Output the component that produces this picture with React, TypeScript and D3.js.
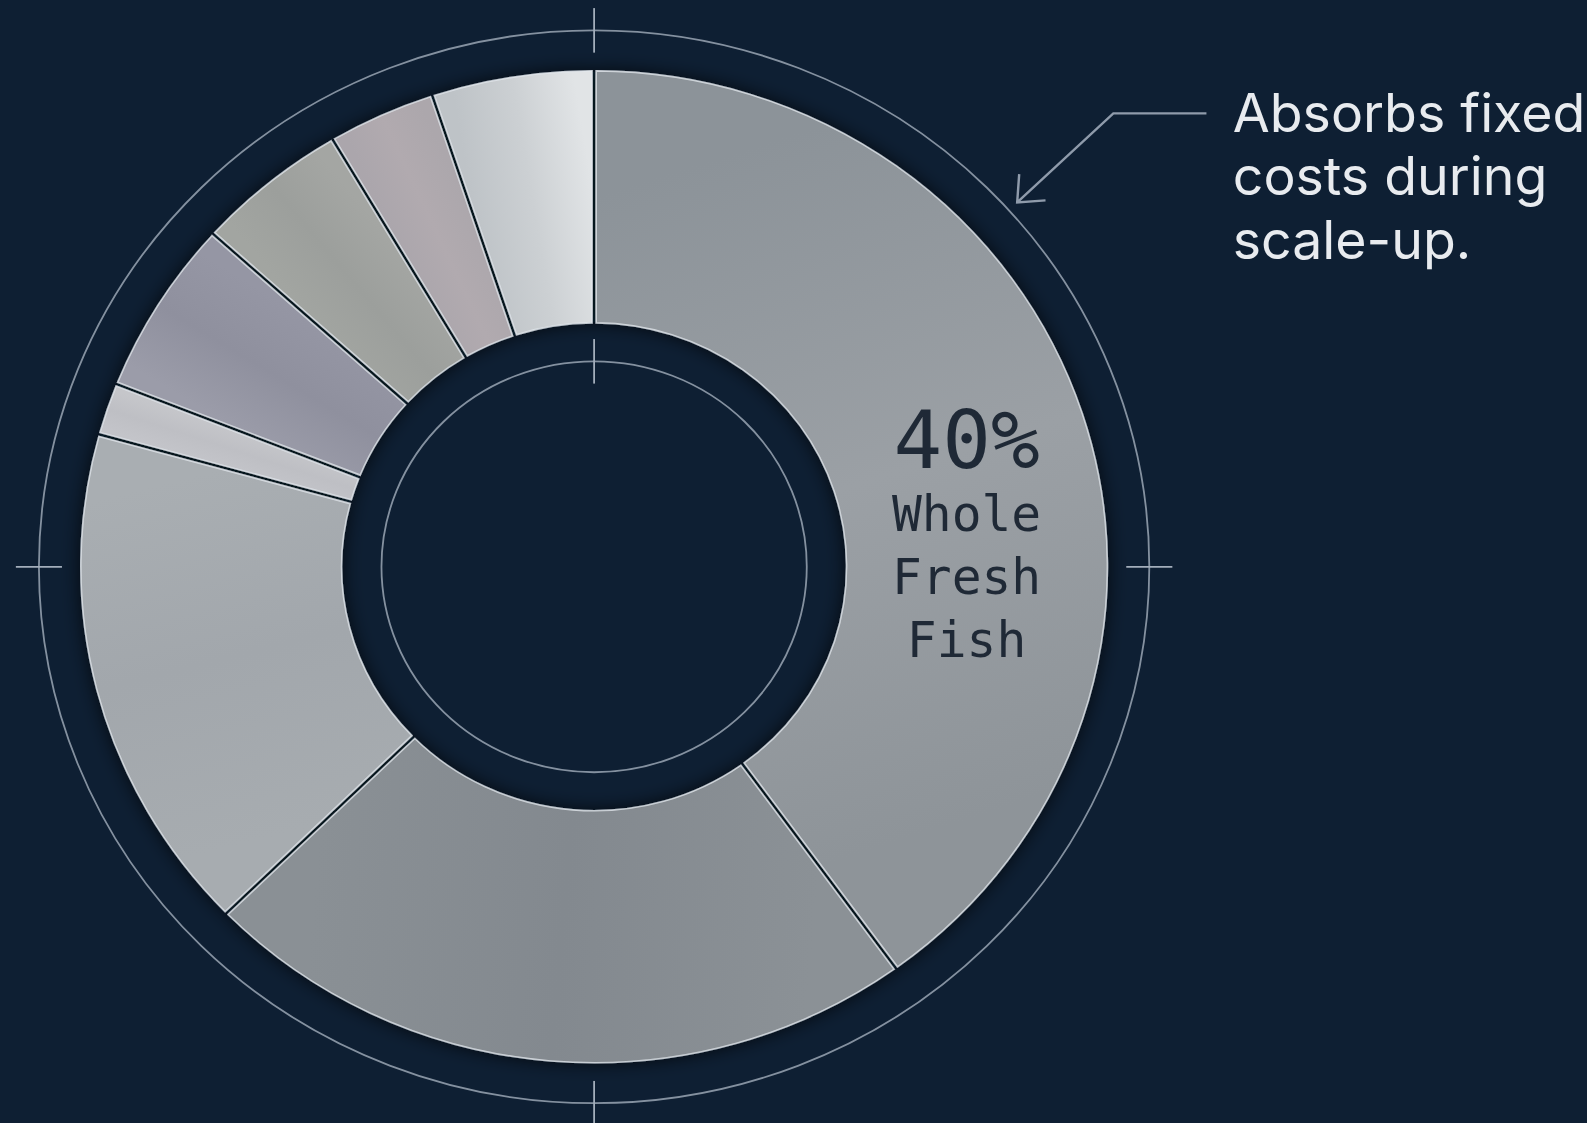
import React, { useRef, useEffect } from "react";
import * as d3 from "d3";

// share of each product line, clockwise from 12 o'clock
const shares = [40, 22.7, 16.6, 1.7, 5.7, 4.8, 3.4, 5.1];
const segmentColors = [
  ["#8c9399", "#9ba0a5", "#8e9499"],
  ["#8b9196", "#83898f", "#8a9095"],
  ["#a7acb0", "#a2a7ac", "#a9aeb2"],
  ["#c3c4c9", "#bebfc4", "#c5c6ca"],
  ["#9b9ca9", "#8f909e", "#9596a4"],
  ["#a2a5a1", "#9c9f9c", "#a4a6a3"],
  ["#aba6ac", "#b1aaaf", "#aca7ac"],
  ["#bec3c7", "#ccd0d3", "#e1e4e6"],
];
const labelLines = ["40%", "Whole", "Fresh", "Fish"];
const noteLines = ["Absorbs fixed", "costs during", "scale-up."];
const crosshairAngles = [0, 90, 180, 270];

const App = () => {
  const node: any = useRef();
  const width = 1587,
    height = 1123;

  useEffect(() => {
    const svg = d3.select(node.current);
    svg.selectAll("*").remove();

    const cx = 587,
      cy = 560,
      stretch = 1.035;
    const rOuter = 490,
      rInner = 241,
      rRing = 530,
      rHole = 203;

    svg.append("rect").attr("width", width).attr("height", height).attr("fill", "#0e1f33");

    const defs = svg.append("defs");
    const shadow = defs
      .append("filter")
      .attr("id", "shade")
      .attr("x", "-20%")
      .attr("y", "-20%")
      .attr("width", "140%")
      .attr("height", "140%");
    shadow
      .append("feDropShadow")
      .attr("dx", 0)
      .attr("dy", 0)
      .attr("stdDeviation", 9)
      .attr("flood-color", "#030b16")
      .attr("flood-opacity", 0.75);

    // layout was measured on a 1568px-wide view of the page
    const root = svg.append("g").attr("transform", `scale(${width / 1568})`);

    const g = root
      .append("g")
      .attr("transform", `translate(${cx},${cy}) scale(${stretch},1)`);

    // guide circles
    [rRing, rHole].forEach((r) => {
      g.append("circle")
        .attr("r", r)
        .attr("fill", "none")
        .attr("stroke", "#a3aebb")
        .attr("stroke-opacity", 0.8)
        .attr("stroke-width", 1.8)
        .attr("vector-effect", "non-scaling-stroke");
    });

    const pie = d3
      .pie<number>()
      .sort(null)
      .value((d) => d)
      .startAngle(0)
      .endAngle(2 * Math.PI);
    const arcs = pie(shares);

    const arc = d3
      .arc<d3.PieArcDatum<number>>()
      .innerRadius(rInner)
      .outerRadius(rOuter)
      .padAngle(4 / rOuter)
      .padRadius(rOuter);

    const mid = (rInner + rOuter) / 2;
    arcs.forEach((a, i) => {
      const grad = defs
        .append("linearGradient")
        .attr("id", "seg" + i)
        .attr("gradientUnits", "userSpaceOnUse")
        .attr("x1", mid * Math.sin(a.startAngle))
        .attr("y1", -mid * Math.cos(a.startAngle))
        .attr("x2", mid * Math.sin(a.endAngle))
        .attr("y2", -mid * Math.cos(a.endAngle));
      segmentColors[i].forEach((c, k) => {
        grad
          .append("stop")
          .attr("offset", k / (segmentColors[i].length - 1))
          .attr("stop-color", c);
      });
    });

    const ring = g.append("g").attr("filter", "url(#shade)");
    ring
      .selectAll("path")
      .data(arcs)
      .enter()
      .append("path")
      .attr("d", arc)
      .attr("fill", (_d, i) => `url(#seg${i})`)
      .attr("stroke", "#e2e7ec")
      .attr("stroke-opacity", 0.8)
      .attr("stroke-width", 1.6)
      .attr("vector-effect", "non-scaling-stroke");

    // crosshair ticks on the outer ring and top of the hole
    const tick = 22;
    crosshairAngles.forEach((deg) => {
      const t = (deg * Math.PI) / 180;
      const ux = Math.sin(t),
        uy = -Math.cos(t);
      g.append("line")
        .attr("x1", ux * (rRing - tick))
        .attr("y1", uy * (rRing - tick))
        .attr("x2", ux * (rRing + tick))
        .attr("y2", uy * (rRing + tick))
        .attr("stroke", "#a3aebb")
        .attr("stroke-width", 1.8)
        .attr("vector-effect", "non-scaling-stroke");
    });
    g.append("line")
      .attr("x1", 0)
      .attr("y1", -(rHole + tick))
      .attr("x2", 0)
      .attr("y2", -(rHole - tick))
      .attr("stroke", "#a3aebb")
      .attr("stroke-width", 1.8)
      .attr("vector-effect", "non-scaling-stroke");

    // label inside the big slice
    const label = root
      .append("text")
      .attr("text-anchor", "middle")
      .attr("fill", "#1f2936")
      .style("font-family", "'DejaVu Sans Mono', 'Liberation Mono', monospace");
    labelLines.forEach((line, i) => {
      label
        .append("tspan")
        .attr("x", cx + 368)
        .attr("y", i === 0 ? cy - 98 : cy - 35 + (i - 1) * 62)
        .attr("font-size", i === 0 ? 80 : 49)
        .text(line);
    });

    // annotation with arrow
    root
      .append("path")
      .attr("d", "M1192,112 L1100,112 L1005,200 M1007,172 L1005,200 L1033,198")
      .attr("fill", "none")
      .attr("stroke", "#8f9bab")
      .attr("stroke-width", 2.4)
      .attr("stroke-linejoin", "miter");

    const note = root
      .append("text")
      .attr("fill", "#e8ebef")
      .attr("font-size", 53)
      .style("font-family", "Inter, 'Noto Sans', sans-serif");
    noteLines.forEach((line, i) => {
      note
        .append("tspan")
        .attr("x", 1218)
        .attr("y", 130 + i * 63)
        .text(line);
    });
  }, []);

  return (
    <svg
      ref={node}
      width={width}
      height={height}
      style={{ position: "absolute", left: 0, top: 0, display: "block" }}
    ></svg>
  );
};

export default App;
